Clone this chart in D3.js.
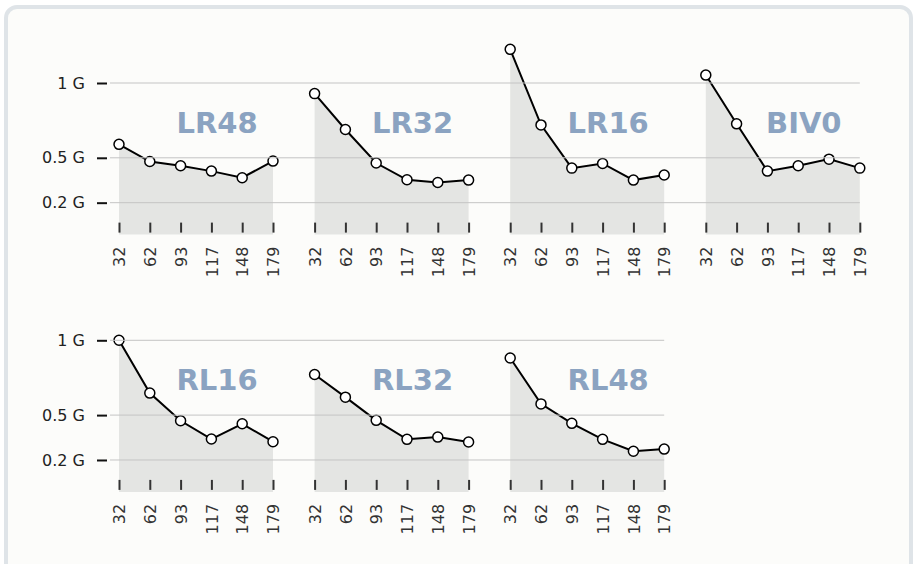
<!DOCTYPE html>
<html>
<head>
<meta charset="utf-8">
<script src="https://cdn.jsdelivr.net/npm/d3@7/dist/d3.min.js"></script>
<style>
html,body{margin:0;padding:0;background:#ffffff;}
svg{display:block;font-family:"DejaVu Sans",sans-serif;}
</style>
</head>
<body>
<svg id="chart" width="913" height="564"></svg>
<script>
const categories = ["32", "62", "93", "117", "148", "179"];
const panelNames = ["LR48", "LR32", "LR16", "BIV0", "RL16", "RL32", "RL48"];
const LR48 = [0.59, 0.475, 0.447, 0.411, 0.367, 0.478];
const LR32 = [0.929, 0.689, 0.465, 0.353, 0.335, 0.351];
const LR16 = [1.225, 0.72, 0.431, 0.462, 0.351, 0.385];
const BIV0 = [1.053, 0.727, 0.411, 0.447, 0.491, 0.431];
const RL16 = [1.0, 0.647, 0.462, 0.34, 0.442, 0.322];
const RL32 = [0.771, 0.62, 0.465, 0.338, 0.353, 0.32];
const RL48 = [0.882, 0.575, 0.445, 0.338, 0.258, 0.273];
const seriesValues = [LR48, LR32, LR16, BIV0, RL16, RL32, RL48];
const yTickValues = [0.2, 0.5, 1];
const yTickLabels = ["0.2 G", "0.5 G", "1 G"];

const svg = d3.select("#chart");

svg.append("rect").attr("x", 6).attr("y", 7).attr("width", 905).attr("height", 580)
  .attr("rx", 11).attr("fill", "#fcfcfa").attr("stroke", "#dfe4e8").attr("stroke-width", 4);

const panelStep = 195.6;
const panelW = 154;
const firstX = 119;
const rowTop = [83, 340.3];
const unitPx = 149.6;

const rows = [[0,1,2,3],[4,5,6]];

rows.forEach((idxs, r) => {
  const y = d3.scaleLinear().domain([0, 1]).range([rowTop[r] + unitPx, rowTop[r]]);
  const rowG = svg.append("g");
  const lastX = firstX + (idxs.length - 1) * panelStep + panelW;

  const panels = [];
  idxs.forEach((pi, k) => {
    const x0 = firstX + k * panelStep;
    const x = d3.scalePoint().domain(categories).range([x0, x0 + panelW]);
    const data = categories.map((c, i) => ({c, v: seriesValues[pi][i]}));
    const g = rowG.append("g");
    g.append("path").datum(data)
      .attr("d", d3.area().x(d => x(d.c)).y0(y(0) + 2).y1(d => y(d.v)))
      .attr("fill", "#e4e5e3");
    panels.push({g, x, data, pi, x0});
  });

  rowG.append("g").selectAll("line").data(yTickValues).join("line")
    .attr("x1", 110).attr("x2", lastX)
    .attr("y1", d => y(d)).attr("y2", d => y(d))
    .attr("stroke", "#c4c4c4").attr("stroke-width", 1);

  const yAxis = d3.axisLeft(y).tickValues(yTickValues)
    .tickFormat(d => yTickLabels[yTickValues.indexOf(d)])
    .tickSize(10).tickPadding(12);
  const ya = rowG.append("g").attr("transform", "translate(107,0)").call(yAxis);
  ya.select(".domain").remove();
  ya.attr("font-size", null).attr("font-family", null);
  ya.selectAll(".tick line").attr("stroke", "#111").attr("stroke-width", 2);
  ya.selectAll(".tick text")
    .style("font-size", "16px").style("font-family", "'DejaVu Sans', sans-serif")
    .attr("fill", "#222");

  panels.forEach(({g, x, data, pi, x0}) => {
    const xAxis = d3.axisBottom(x).tickSize(10).tickPadding(0);
    const xa = g.append("g").attr("transform", `translate(0,${y(0) - 10})`).call(xAxis);
    xa.select(".domain").remove();
    xa.attr("font-size", null).attr("font-family", null);
    xa.selectAll(".tick line").attr("stroke", "#333").attr("stroke-width", 2);
    xa.selectAll(".tick text")
      .style("font-size", "16px").style("font-family", "'DejaVu Sans', sans-serif")
      .attr("fill", "#333")
      .attr("text-anchor", "end")
      .attr("transform", "rotate(-90)")
      .attr("x", -24).attr("y", 0).attr("dy", "0.35em");

    g.append("text")
      .attr("x", x0 + panelW / 2 + 21)
      .attr("y", y(0.667))
      .attr("text-anchor", "middle")
      .style("font-size", "29px").style("font-weight", "bold")
      .attr("fill", "#8ba3c1")
      .text(panelNames[pi]);

    g.append("path").datum(data)
      .attr("d", d3.line().x(d => x(d.c)).y(d => y(d.v)))
      .attr("fill", "none").attr("stroke", "#000").attr("stroke-width", 2);

    g.selectAll("circle").data(data).join("circle")
      .attr("cx", d => x(d.c)).attr("cy", d => y(d.v)).attr("r", 5)
      .attr("fill", "#fff").attr("stroke", "#000").attr("stroke-width", 1.5);
  });
});
</script>
</body>
</html>
